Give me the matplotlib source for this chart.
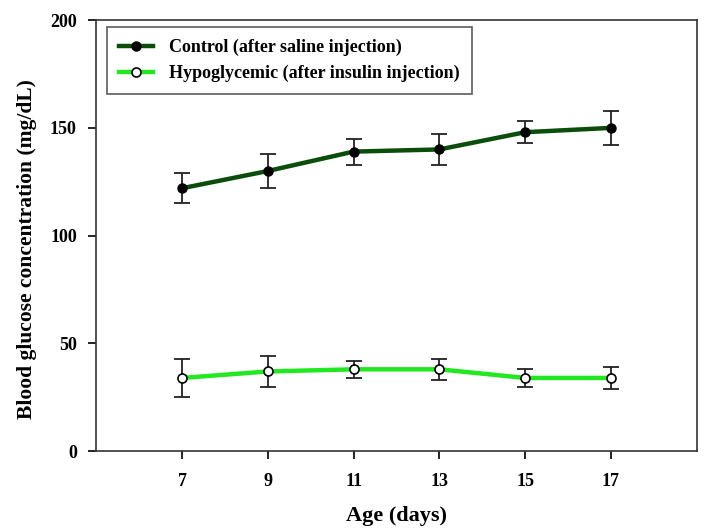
import matplotlib
matplotlib.use("Agg")
import matplotlib.pyplot as plt

days = [7, 9, 11, 13, 15, 17]
control = [122, 130, 139, 140, 148, 150]
control_err = [7, 8, 6, 7, 5, 8]
hypo = [34, 37, 38, 38, 34, 34]
hypo_err = [9, 7, 4, 5, 4, 5]
xticks = [7, 9, 11, 13, 15, 17]
yticks = [0, 50, 100, 150, 200]

plt.rcParams['font.family'] = ['Liberation Serif', 'DejaVu Serif']
plt.rcParams['font.weight'] = 'bold'

fig = plt.figure(figsize=(7.08, 5.29), dpi=100)
ax = fig.add_axes([0.136, 0.147, 0.848, 0.815])

dark = '#0b4d0b'
bright = '#22e822'

ax.errorbar(days, control, yerr=control_err, fmt='none',
            ecolor='#222222', elinewidth=1.3, capsize=6, capthick=1.3, zorder=2)
ax.errorbar(days, hypo, yerr=hypo_err, fmt='none',
            ecolor='#222222', elinewidth=1.3, capsize=6, capthick=1.3, zorder=2)
ax.plot(days, control, color=dark, lw=3.2, marker='o', ms=6.5, mfc='black',
        mec='black', label='Control (after saline injection)', zorder=3)
ax.plot(days, hypo, color=bright, lw=3.2, marker='o', ms=6.5, mfc='white',
        mec='black', mew=1.2, label='Hypoglycemic (after insulin injection)', zorder=3)

ax.set_xlim(5, 19)
ax.set_ylim(0, 200)
ax.set_xticks(xticks)
ax.set_yticks(yticks)
ax.tick_params(direction='out', length=6, width=1.2, labelsize=13, top=False, right=False)
ax.tick_params(axis='x', pad=9.5)
ax.tick_params(axis='y', pad=8)
for lab in ax.get_xticklabels() + ax.get_yticklabels():
    lab.set_fontweight('bold')
for s in ax.spines.values():
    s.set_linewidth(1.2)
    s.set_color('#333333')

ax.set_xlabel('Age (days)', fontsize=16, fontweight='bold', labelpad=12)
ax.set_ylabel('Blood glucose concentration (mg/dL)', fontsize=15.5, fontweight='bold')
ax.yaxis.label.set_fontweight('bold')
ax.yaxis.set_label_coords(-0.098, 0.469)

leg = ax.legend(loc='upper left', fontsize=13, frameon=True, fancybox=False,
                edgecolor='#333333', borderpad=0.65, handlelength=1.9,
                handletextpad=0.9, borderaxespad=0, labelspacing=0.5,
                bbox_to_anchor=(0.018, 0.984))
leg.get_frame().set_linewidth(1.2)
for t in leg.get_texts():
    t.set_fontweight('bold')

fig.savefig('out.png', dpi=100)
